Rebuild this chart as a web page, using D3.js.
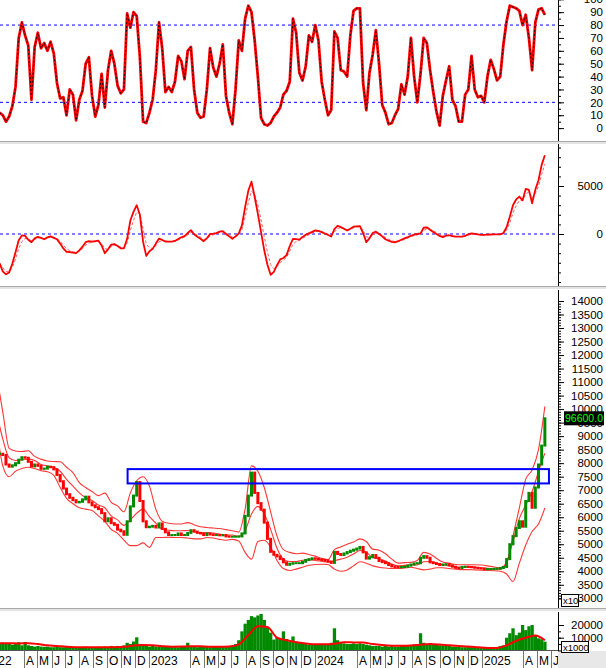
<!DOCTYPE html>
<html><head><meta charset="utf-8">
<script src="https://cdn.jsdelivr.net/npm/d3@7"></script>
<style>body{margin:0;background:#fff}svg{display:block;font-family:"Liberation Sans",Arial,sans-serif}</style>
</head><body><svg id="c" width="606" height="668"></svg>
<script>
// ---------------- DATA ----------------
const firstWeek = "2022-02-07";           // date of the first weekly sample
const stochK = [12,10,5,9,17,32,70,82,72,64,22,63,74,62,66,60,67,58,35,23,24,10,30,26,6,22,29,50,55,25,9,18,42,16,45,60,50,33,27,30,89,78,90,87,55,5,4,12,22,45,82,62,28,32,28,36,56,52,38,60,63,30,12,8,9,30,62,47,40,50,65,25,12,3,30,68,60,85,95,90,68,40,8,3,2,4,9,12,16,26,29,36,85,74,43,37,48,72,67,80,68,36,22,10,14,75,70,45,44,40,72,91,93,93,35,14,43,57,76,50,18,12,3,4,10,15,34,26,40,70,40,20,42,70,66,45,28,13,2,25,37,48,22,17,5,5,26,30,56,30,24,25,20,40,53,46,37,40,65,83,95,94,93,91,80,88,70,45,82,92,93,88];
const macdLine = [-3050,-3900,-4200,-4000,-3100,-1900,-650,-150,-200,-600,-850,-450,-300,-400,-550,-350,-250,-400,-550,-1000,-1500,-1850,-1880,-1950,-2000,-1700,-1320,-850,-750,-800,-750,-700,-1200,-2000,-1600,-1120,-1050,-1250,-1490,-1490,-500,1400,2300,3000,2000,-800,-2280,-1800,-1550,-1000,-480,-620,-780,-800,-800,-720,-520,-340,-220,100,400,-30,-280,-500,-750,-450,0,30,90,250,300,0,-250,-500,-250,50,900,2800,4500,5450,3850,2100,200,-1700,-3200,-4250,-3950,-3250,-2650,-2500,-2200,-1250,-500,-530,-580,-300,-80,70,220,380,330,200,50,-100,-260,500,860,720,550,360,550,760,800,830,100,-850,-450,100,250,0,-250,-550,-700,-820,-880,-750,-600,-450,-320,-180,-60,0,70,650,700,450,200,0,-200,-330,-180,-130,-220,-280,-280,-280,-200,-30,70,20,-40,-90,-90,-70,-50,-40,-30,-30,100,700,1800,3000,3600,3900,3500,4700,4600,3200,4600,5600,7200,8200];
const priceClose = [8350,8300,7950,7870,7920,8000,8130,8220,8200,8050,7880,7950,7900,7790,7800,7870,7850,7770,7560,7330,7060,6850,6720,6630,6550,6570,6660,6760,6550,6440,6370,6300,6150,5850,5960,5780,5720,5540,5480,5350,5850,6400,6800,7300,6600,5850,5630,5650,5680,5620,5770,5570,5440,5340,5340,5340,5400,5340,5340,5420,5520,5470,5420,5400,5340,5400,5360,5340,5340,5330,5340,5290,5280,5280,5280,5290,5400,6050,6800,7650,6900,6520,6280,5800,5200,4720,4610,4550,4450,4330,4240,4280,4300,4300,4300,4350,4420,4450,4480,4460,4440,4420,4400,4360,4310,4720,4640,4600,4660,4710,4760,4800,4840,4900,4700,4470,4520,4600,4500,4380,4340,4300,4230,4180,4160,4150,4160,4170,4210,4250,4290,4300,4500,4560,4500,4330,4300,4270,4230,4250,4260,4220,4170,4130,4120,4160,4170,4160,4150,4130,4110,4100,4080,4080,4080,4090,4100,4120,4160,4450,5000,5300,5600,5850,5650,6600,6900,6350,7100,7950,8650,9660];
const volume = [5500,6000,5000,5500,4500,5000,6500,4000,6600,4000,3500,3000,3500,3000,2800,3000,2500,2500,2800,2500,2500,3000,2500,2500,2200,2500,2800,3000,2500,2200,2500,2800,2500,3000,2800,3500,3000,3500,3000,4000,6000,5000,7000,10300,5000,4000,3500,3000,3500,3000,3000,2800,3000,2800,2600,3000,2500,3000,3500,6000,3000,2800,2500,2800,3000,2800,2500,2800,3000,2800,3000,3000,3500,4000,5000,8000,15000,21000,24000,27000,26000,27500,28700,24000,18000,14000,8500,10000,9000,15000,9000,7000,11000,7000,6500,5500,5000,4500,4500,5000,4500,5000,5000,4500,6000,17400,8000,6000,5500,5000,5000,5500,5000,5500,5000,4500,4000,3500,3500,3500,3000,3500,3000,3500,3000,3000,3500,3500,4000,4000,4500,4000,13500,6000,5000,5000,4500,4500,4000,4000,3500,3500,3000,3000,3000,2500,2500,3000,2500,2000,2000,1800,1800,1800,1500,1800,2000,3500,4000,10000,13500,17400,12000,14000,20000,16000,19000,20000,12000,9500,8800,6900];
// Bollinger bands: sampled every 2 weeks starting one week before firstWeek
const bandFirst = -1, bandStep = 2;
const bbUpper = [11300,9900,8550,8450,8430,8460,8250,8150,8080,8060,8050,7850,7650,7280,7100,6950,6800,6890,6550,6420,6200,6900,7350,7500,7150,6300,5850,5780,5750,5750,5800,5720,5650,5620,5600,5580,5540,5500,5450,6300,7900,7700,7100,6200,5300,4800,4700,4650,4670,4620,4560,4480,4430,4800,4900,5000,5080,5200,5100,4820,4780,4650,4450,4300,4320,4330,4400,4700,4640,4480,4340,4300,4250,4240,4240,4240,4230,4200,4160,4130,4300,5300,6350,7400,7750,8500,10100];
const bbMiddle = [9900,8900,8200,8100,8120,8150,8100,7950,7900,7850,7700,7400,7150,6900,6720,6620,6450,6350,6050,5900,5700,5900,6150,6300,6020,5780,5550,5520,5500,5500,5510,5460,5420,5430,5410,5380,5340,5340,5290,5500,6120,6400,6120,5550,4850,4450,4360,4360,4410,4420,4400,4370,4340,4390,4450,4520,4640,4770,4700,4510,4460,4380,4270,4200,4220,4240,4230,4350,4360,4300,4240,4200,4160,4150,4150,4140,4130,4110,4090,4070,4350,5100,5950,6450,6950,7690,8370];
const bbLower = [9400,7900,7500,7700,7800,7850,7800,7720,7680,7550,7100,6700,6500,6350,6300,6250,6050,5850,5550,5400,5150,4950,4950,5050,4880,5250,5250,5260,5250,5250,5230,5200,5200,5250,5230,5180,5150,5180,5120,4700,4450,5100,5150,4900,4400,4100,4030,4080,4150,4220,4250,4260,4250,4080,4000,4050,4200,4350,4300,4200,4150,4120,4100,4100,4120,4150,4100,4050,4080,4130,4130,4100,4080,4060,4060,4050,4040,4030,4020,4000,3900,3620,4300,4970,5470,5750,6340];
// Volume moving average: sampled every 3 weeks
const volMAStep = 3;
const volMA = [5600,5600,5500,5600,5000,4000,3500,2800,2500,2400,2400,2400,2500,2800,3800,4300,4000,3300,2900,3000,3300,3200,2900,2900,3100,4800,12000,19000,18500,10000,8000,6500,5500,4800,4800,5200,6400,6300,6200,5000,4200,3700,3600,3800,4500,5000,4600,4000,3500,3100,2500,1900,1900,4000,7500,10000,11800,8000];
// Resistance zone (blue box)
const zoneDates = ["2022-11-15","2025-05-28"];
const zonePrices = [7250,7780];
// Axis ticks / labels
const stochTicks = [0,10,20,30,40,50,60,70,80,90,100];
const stochLevels = [20,80];
const macdTicks = [0,5000];
const priceTicks = d3.range(3000,14001,500);
const volTicks = [10000,20000];
const monthLabels = [
 ["2022-01-01","2022"],["2022-04-01","A"],["2022-05-01","M"],["2022-06-01","J"],["2022-07-01","J"],["2022-08-01","A"],["2022-09-01","S"],["2022-10-01","O"],["2022-11-01","N"],["2022-12-01","D"],
 ["2023-01-01","2023"],["2023-04-01","A"],["2023-05-01","M"],["2023-06-01","J"],["2023-07-01","J"],["2023-08-01","A"],["2023-09-01","S"],["2023-10-01","O"],["2023-11-01","N"],["2023-12-01","D"],
 ["2024-01-01","2024"],["2024-04-01","A"],["2024-05-01","M"],["2024-06-01","J"],["2024-07-01","J"],["2024-08-01","A"],["2024-09-01","S"],["2024-10-01","O"],["2024-11-01","N"],["2024-12-01","D"],
 ["2025-01-01","2025"],["2025-04-01","A"],["2025-05-01","M"],["2025-06-01","J"]];
const lastPriceText = "96600.0";
const priceUnit = "x10", volUnit = "x1000";

// ---------------- CHART ----------------
const svg = d3.select("#c");
const parse = d3.timeParse("%Y-%m-%d");
const t0 = parse(firstWeek);
const wDate = w => d3.timeDay.offset(t0, 7*w);
const plotR = 558;
const x = d3.scaleTime().domain([parse("2023-01-01"), parse("2025-01-01")]).range([149, 482]);

const panels = {
  stoch:[0,141], macd:[144,286], price:[290,608], vol:[612,650]
};
const yS = d3.scaleLinear().domain([0,100]).range([128.1,-0.7]);
const yM = d3.scaleLinear().domain([0,5000]).range([234,186]);
const yP = d3.scaleLinear().domain([3000,14000]).range([598.3,301]);
const yV = d3.scaleLinear().domain([0,20000]).range([650.4,625]);

const defs = svg.append("defs");
Object.entries(panels).forEach(([k,[a,b]])=>{
  defs.append("clipPath").attr("id","clip-"+k).append("rect").attr("x",0).attr("y",a).attr("width",plotR).attr("height",b-a);
});
defs.append("clipPath").attr("id","clip-x").append("rect").attr("x",0).attr("y",650).attr("width",plotR).attr("height",18);

svg.append("rect").attr("width",606).attr("height",668).attr("fill","#fff");

// separators
[141,286,608].forEach(yy=>{
  svg.append("rect").attr("x",0).attr("y",yy).attr("width",606).attr("height",3).attr("fill","#e4e4e4");
  svg.append("line").attr("x1",0).attr("x2",606).attr("y1",yy+0.5).attr("y2",yy+0.5).attr("stroke","#a8a8a8");
});
// bottom-right grey area
svg.append("rect").attr("x",plotR).attr("y",651).attr("width",606-plotR).attr("height",17).attr("fill","#e8e8e8");

// ---- stochastic panel
const gS = svg.append("g").attr("clip-path","url(#clip-stoch)");
stochLevels.forEach(v=>gS.append("line").attr("x1",0).attr("x2",plotR).attr("y1",yS(v)).attr("y2",yS(v))
  .attr("stroke","#0000ff").attr("stroke-width",1).attr("stroke-dasharray","3,3"));
const lineS = d3.line().x((d,i)=>x(wDate(i))).y(d=>yS(d));
gS.append("path").datum(stochK).attr("d",lineS).attr("fill","none").attr("stroke","#ff0000").attr("stroke-width",2.8).attr("stroke-linejoin","round");
gS.append("path").datum(stochK).attr("d",lineS).attr("fill","none").attr("stroke","#000").attr("stroke-width",1).attr("stroke-dasharray","2,2").attr("opacity",0.8);

// ---- MACD panel
const gM = svg.append("g").attr("clip-path","url(#clip-macd)");
gM.append("line").attr("x1",0).attr("x2",plotR).attr("y1",yM(0)).attr("y2",yM(0)).attr("stroke","#0000ff").attr("stroke-dasharray","3,3");
const signal = []; macdLine.forEach((v,i)=>signal.push(i? signal[i-1]*0.45+v*0.55 : v));
const lineM = d3.line().x((d,i)=>x(wDate(i))).y(d=>yM(d));
gM.append("path").datum(signal).attr("d",lineM).attr("fill","none").attr("stroke","#ff6060").attr("stroke-width",1).attr("stroke-dasharray","3,2");
gM.append("path").datum(macdLine).attr("d",lineM).attr("fill","none").attr("stroke","#ff0000").attr("stroke-width",1.8).attr("stroke-linejoin","round");

// ---- price panel
const gP = svg.append("g").attr("clip-path","url(#clip-price)");
const bandLine = d3.line().x((d,i)=>x(wDate(bandFirst+bandStep*i))).y(d=>yP(d)).curve(d3.curveMonotoneX);
[bbUpper,bbMiddle,bbLower].forEach(arr=>gP.append("path").datum(arr).attr("d",bandLine).attr("fill","none").attr("stroke","#ff2020").attr("stroke-width",1.1).attr("opacity",0.9));
gP.selectAll("rect.candle").data(priceClose).join("rect").attr("class","candle")
  .attr("x",(d,i)=>x(wDate(i))-1.5).attr("width",3)
  .attr("y",(d,i)=>yP(Math.max(d, i?priceClose[i-1]:d))-1)
  .attr("height",(d,i)=>Math.abs(yP(d)-yP(i?priceClose[i-1]:d))+2)
  .attr("fill",(d,i)=> (i && d<priceClose[i-1]) ? "#ff0000" : "#008a00");
// zone box
gP.append("rect").attr("x",x(parse(zoneDates[0]))).attr("y",yP(zonePrices[1]))
  .attr("width",x(parse(zoneDates[1]))-x(parse(zoneDates[0]))).attr("height",yP(zonePrices[0])-yP(zonePrices[1]))
  .attr("fill","none").attr("stroke","#0000ff").attr("stroke-width",2);

// ---- volume panel
const gV = svg.append("g").attr("clip-path","url(#clip-vol)");
gV.selectAll("rect.vb").data(volume).join("rect").attr("class","vb")
  .attr("x",(d,i)=>x(wDate(i))-1.6).attr("width",3.3)
  .attr("y",d=>yV(d)).attr("height",d=>yV(0)-yV(d)).attr("fill","#008a00");
gV.append("path").datum(volMA).attr("d",d3.line().x((d,i)=>x(wDate(volMAStep*i))).y(d=>yV(d)).curve(d3.curveMonotoneX))
  .attr("fill","none").attr("stroke","#ff0000").attr("stroke-width",2);

// ---- right axes
function rightAxis(scale, major, minorStep, fmt, domain){
  const g = svg.append("g").attr("transform",`translate(${plotR},0)`);
  const minor = d3.range(domain[0], domain[1]+1e-9, minorStep);
  g.call(d3.axisRight(scale).tickValues(minor).tickSize(3).tickFormat(""));
  g.select(".domain").remove();
  const g2 = svg.append("g").attr("transform",`translate(${plotR},0)`);
  g2.call(d3.axisRight(scale).tickValues(major).tickSize(6).tickFormat(fmt));
  g2.select(".domain").remove();
  g2.selectAll("text").attr("x",45).attr("text-anchor","end").attr("font-size","11.5px").attr("fill","#000").attr("font-family",'"Liberation Sans",Arial,sans-serif');
  g.selectAll("line").attr("stroke","#000"); g2.selectAll("line").attr("stroke","#000");
}
rightAxis(yS, stochTicks, 5, d3.format("d"), [0,100]);
rightAxis(yM, macdTicks, 1000, d3.format("d"), [-5000,9000]);
rightAxis(yP, priceTicks, 100, d3.format("d"), [3000,14000]);
rightAxis(yV, volTicks, 5000, d3.format("d"), [0,20000]);
// axis line
[[0,141],[144,286],[290,608],[612,651]].forEach(([a,b])=>svg.append("line").attr("x1",plotR+0.5).attr("x2",plotR+0.5).attr("y1",a).attr("y2",b).attr("stroke","#000"));

// last price tag
const ly = yP(9660);
svg.append("rect").attr("x",564).attr("y",ly-7).attr("width",40).attr("height",14).attr("fill","#000");
svg.append("text").attr("x",584).attr("y",ly+4).attr("text-anchor","middle").attr("font-size","10.5px").attr("fill","#00ff00").text(lastPriceText);
// unit boxes
svg.append("rect").attr("x",561.5).attr("y",594.5).attr("width",17).attr("height",12).attr("fill","#fff").attr("stroke","#000");
svg.append("text").attr("x",563).attr("y",604).attr("font-size","9.5px").text(priceUnit);
svg.append("rect").attr("x",561.5).attr("y",641.5).attr("width",27).attr("height",11).attr("fill","#fff").attr("stroke","#000");
svg.append("text").attr("x",563).attr("y",650.5).attr("font-size","9.5px").text(volUnit);

// ---- x axis labels
svg.append("line").attr("x1",0).attr("x2",plotR).attr("y1",650.5).attr("y2",650.5).attr("stroke","#555");
const gX = svg.append("g").attr("clip-path","url(#clip-x)");
monthLabels.forEach(([d,t])=>{
  const xx = Math.round(x(parse(d)))+0.5;
  gX.append("line").attr("x1",xx).attr("x2",xx).attr("y1",651).attr("y2",668).attr("stroke","#777");
  gX.append("text").attr("x",xx+1.5).attr("y",665).attr("font-size","12px").attr("fill","#000").text(t);
});
</script></body></html>
